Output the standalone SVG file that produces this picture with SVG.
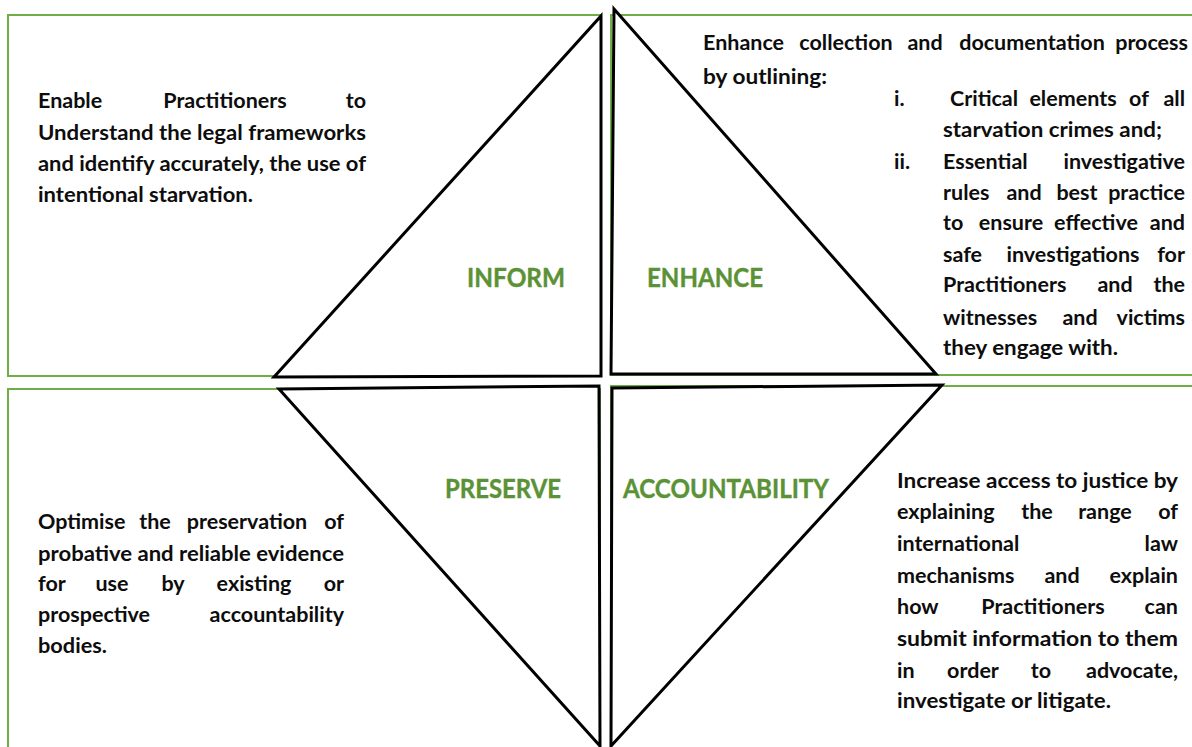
<svg xmlns="http://www.w3.org/2000/svg" width="1192" height="747" viewBox="0 0 1192 747">
<style>
.frame{fill:none;stroke:#70AD47;stroke-width:2}
.tri{fill:#fff;stroke:#000;stroke-width:3;stroke-linejoin:miter}
.t{font-family:Lato,"Open Sans","Liberation Sans",sans-serif;font-weight:bold;font-size:21.5px;fill:#0d0d0d}
.e{text-anchor:end}
.m{text-anchor:middle}
.lbl{font-family:Lato,"Open Sans","Liberation Sans",sans-serif;font-weight:bold;font-size:27px;fill:#5B9236;stroke:#5B9236;stroke-width:0.4}
</style>
<rect width="1192" height="747" fill="#fff"/>

<g id="inform">
<rect class="frame" x="8" y="15" width="593" height="361"/>
<path class="tri" d="M601,16 L601,376 L274,377 Z"/>
<text class="lbl" x="467" y="287" textLength="98" lengthAdjust="spacingAndGlyphs">INFORM</text>
<text class="t" x="38" y="108">Enable</text>
<text class="t m" x="225" y="108">Practitioners</text>
<text class="t e" x="366" y="108">to</text>
<text class="t" x="38" y="140" textLength="328" lengthAdjust="spacingAndGlyphs">Understand the legal frameworks</text>
<text class="t" x="38" y="171" textLength="328" lengthAdjust="spacingAndGlyphs">and identify accurately, the use of</text>
<text class="t" x="38" y="202" textLength="215" lengthAdjust="spacingAndGlyphs">intentional starvation.</text>
</g>

<g id="enhance">
<rect class="frame" x="611" y="15" width="600" height="360"/>
<path class="tri" d="M614,9 L936,374 L611,374 Z"/>
<text class="lbl" x="647" y="287" textLength="116" lengthAdjust="spacingAndGlyphs">ENHANCE</text>
<text class="t" x="703" y="50">Enhance</text>
<text class="t m" x="846" y="50">collection</text>
<text class="t m" x="925" y="50">and</text>
<text class="t m" x="1032" y="50">documentation</text>
<text class="t e" x="1188" y="50">process</text>
<text class="t" x="703" y="84" textLength="124" lengthAdjust="spacingAndGlyphs">by outlining:</text>
<text class="t" x="894" y="106">i.</text>
<text class="t" x="950" y="106">Critical</text>
<text class="t m" x="1073" y="106">elements</text>
<text class="t m" x="1139" y="106">of</text>
<text class="t e" x="1185" y="106">all</text>
<text class="t" x="943" y="137" textLength="219" lengthAdjust="spacingAndGlyphs">starvation crimes and;</text>
<text class="t" x="894" y="169">ii.</text>
<text class="t" x="943" y="169">Essential</text>
<text class="t e" x="1185" y="169">investigative</text>
<text class="t" x="943" y="200">rules</text>
<text class="t m" x="1024" y="200">and</text>
<text class="t m" x="1077" y="200">best</text>
<text class="t e" x="1185" y="200">practice</text>
<text class="t" x="943" y="230">to</text>
<text class="t m" x="1011" y="230">ensure</text>
<text class="t m" x="1096" y="230">effective</text>
<text class="t e" x="1185" y="230">and</text>
<text class="t" x="943" y="262">safe</text>
<text class="t m" x="1073" y="262">investigations</text>
<text class="t e" x="1185" y="262">for</text>
<text class="t" x="943" y="292">Practitioners</text>
<text class="t m" x="1115" y="292">and</text>
<text class="t e" x="1185" y="292">the</text>
<text class="t" x="943" y="325">witnesses</text>
<text class="t m" x="1080" y="325">and</text>
<text class="t e" x="1185" y="325">victims</text>
<text class="t" x="943" y="355" textLength="175" lengthAdjust="spacingAndGlyphs">they engage with.</text>
</g>

<g id="preserve">
<rect class="frame" x="8" y="389" width="592" height="400"/>
<path class="tri" d="M279,389 L599,386 L600,746 Z"/>
<text class="lbl" x="445" y="498" textLength="116" lengthAdjust="spacingAndGlyphs">PRESERVE</text>
<text class="t" x="38" y="529">Optimise</text>
<text class="t m" x="155" y="529">the</text>
<text class="t m" x="247" y="529">preservation</text>
<text class="t e" x="344" y="529">of</text>
<text class="t" x="38" y="561" textLength="306" lengthAdjust="spacingAndGlyphs">probative and reliable evidence</text>
<text class="t" x="38" y="591">for</text>
<text class="t m" x="112" y="591">use</text>
<text class="t m" x="173" y="591">by</text>
<text class="t m" x="254" y="591">existing</text>
<text class="t e" x="344" y="591">or</text>
<text class="t" x="38" y="622">prospective</text>
<text class="t e" x="344" y="622">accountability</text>
<text class="t" x="38" y="653" textLength="69" lengthAdjust="spacingAndGlyphs">bodies.</text>
</g>

<g id="accountability">
<rect class="frame" x="611" y="386" width="600" height="400"/>
<path class="tri" d="M612,388 L942,385 L611,746 Z"/>
<text class="lbl" x="623" y="498" textLength="206" lengthAdjust="spacingAndGlyphs">ACCOUNTABILITY</text>
<text class="t" x="897" y="488" textLength="281" lengthAdjust="spacingAndGlyphs">Increase access to justice by</text>
<text class="t" x="897" y="519">explaining</text>
<text class="t m" x="1037" y="519">the</text>
<text class="t m" x="1105" y="519">range</text>
<text class="t e" x="1178" y="519">of</text>
<text class="t" x="897" y="551">international</text>
<text class="t e" x="1178" y="551">law</text>
<text class="t" x="897" y="583">mechanisms</text>
<text class="t m" x="1062" y="583">and</text>
<text class="t e" x="1178" y="583">explain</text>
<text class="t" x="897" y="614">how</text>
<text class="t m" x="1043" y="614">Practitioners</text>
<text class="t e" x="1178" y="614">can</text>
<text class="t" x="897" y="646" textLength="281" lengthAdjust="spacingAndGlyphs">submit information to them</text>
<text class="t" x="897" y="678">in</text>
<text class="t m" x="973" y="678">order</text>
<text class="t m" x="1041" y="678">to</text>
<text class="t e" x="1178" y="678">advocate,</text>
<text class="t" x="897" y="708" textLength="214" lengthAdjust="spacingAndGlyphs">investigate or litigate.</text>
</g>
</svg>
